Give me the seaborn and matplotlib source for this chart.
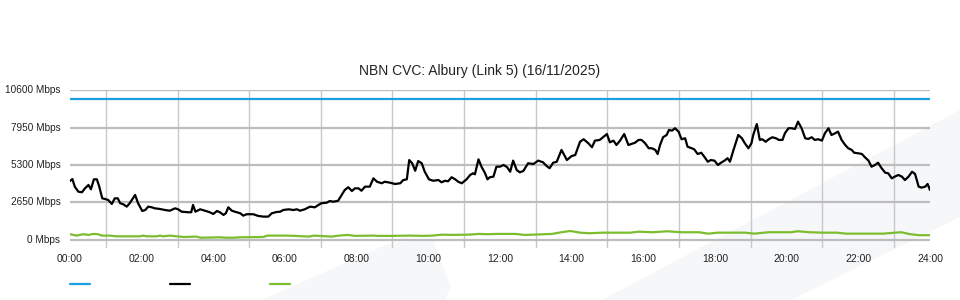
import numpy as np
import pandas as pd
import seaborn as sns
import matplotlib
matplotlib.use("Agg")
import matplotlib.pyplot as plt
from matplotlib.patches import Polygon

# ---- data -------------------------------------------------------------
title = "NBN CVC: Albury (Link 5) (16/11/2025)"
y_ticks = [0, 2650, 5300, 7950, 10600]
y_tick_labels = [f"{v} Mbps" for v in y_ticks]
x_ticks = list(range(0, 25, 2))
x_tick_labels = [f"{h:02d}:00" for h in x_ticks]

capacity_min = [0, 1440]
capacity_val = [10000, 10000]

traffic_min = [0, 4, 8, 14, 20, 25, 31, 35, 40, 45, 49, 54, 59, 64, 70, 75, 80, 84, 89, 95,
               100, 109, 114, 121, 126, 131, 137, 142, 151, 159, 167, 176, 181, 187, 198, 203,
               206, 210, 218, 226, 234, 240, 246, 251, 257, 261, 265, 271, 276, 285, 290, 296,
               307, 315, 324, 332, 338, 346, 352, 357, 366, 374, 380, 385, 393, 402, 410, 416,
               421, 430, 435, 441, 449, 455, 460, 466, 472, 477, 483, 488, 494, 502, 508, 514,
               522, 527, 536, 544, 553, 558, 564, 568, 573, 578, 583, 589, 594, 601, 608, 617,
               622, 628, 633, 639, 645, 650, 656, 664, 670, 675, 678, 684, 689, 695, 699, 703,
               709, 714, 720, 726, 732, 737, 742, 748, 753, 759, 767, 776, 784, 792, 798, 803,
               809, 815, 823, 832, 840, 846, 854, 860, 868, 874, 879, 887, 899, 904, 910, 915,
               921, 928, 935, 940, 946, 952, 957, 963, 969, 974, 980, 984, 988, 993, 999, 1003,
               1008, 1013, 1019, 1024, 1030, 1034, 1041, 1045, 1051, 1057, 1062, 1068, 1073,
               1079, 1085, 1090, 1096, 1101, 1105, 1111, 1119, 1125, 1130, 1136, 1141, 1144,
               1150, 1155, 1159, 1165, 1170, 1176, 1182, 1187, 1193, 1197, 1203, 1208, 1214,
               1219, 1225, 1231, 1236, 1242, 1247, 1253, 1259, 1264, 1270, 1275, 1281, 1286,
               1292, 1298, 1303, 1309, 1313, 1320, 1326, 1331, 1337, 1342, 1348, 1353, 1359,
               1365, 1370, 1376, 1381, 1387, 1393, 1398, 1404, 1410, 1415, 1421, 1426, 1432,
               1436, 1440]
traffic_val = [4160, 4300, 3760, 3400, 3360, 3640, 3880, 3570, 4280, 4280, 3760, 2930, 2880, 2810,
               2530, 2930, 2930, 2580, 2510, 2340, 2580, 3170, 2580, 2030, 2100, 2340, 2290, 2220,
               2170, 2100, 2050, 2220, 2150, 1980, 1940, 1940, 2460, 1980, 2150, 2050, 1940, 1820,
               2030, 1940, 1750, 1870, 2290, 2050, 1980, 1870, 1700, 1800, 1800, 1680, 1630, 1630,
               1870, 1960, 1980, 2100, 2150, 2100, 2150, 2050, 2150, 2340, 2290, 2460, 2580, 2620,
               2740, 2690, 2760, 3170, 3520, 3720, 3450, 3640, 3640, 3470, 3760, 3760, 4350, 4110,
               4000, 4110, 4040, 3950, 4000, 4230, 4280, 5650, 5420, 4890, 5580, 5420, 4820, 4280,
               4180, 4230, 4070, 4180, 4140, 4430, 4280, 4110, 4000, 4280, 4590, 4710, 4640, 5700,
               5180, 4710, 4280, 4430, 4470, 5180, 5180, 5300, 5140, 4820, 5610, 4940, 4780, 4870,
               5420, 5370, 5610, 5490, 5230, 5070, 5460, 5530, 6370, 5650, 5940, 6010, 6950, 7130,
               6840, 6560, 7030, 7080, 7500, 6910, 7030, 6720, 7030, 7500, 6720, 6790, 6880, 7080,
               7080, 6840, 6490, 6490, 6370, 6080, 6720, 7270, 7430, 7790, 7740, 7910, 7670, 7130,
               7200, 6600, 6490, 6420, 6080, 6170, 5890, 5530, 5650, 5610, 5300, 5460, 5610, 5780,
               5530, 6370, 7430, 7200, 6840, 6490, 6840, 7430, 8210, 7080, 7130, 6950, 7130, 7270,
               7200, 7080, 7080, 7550, 7910, 7910, 7860, 8380, 7910, 7200, 7150, 7270, 7080, 7130,
               7030, 7550, 7910, 7430, 7550, 7670, 7080, 6720, 6490, 6370, 6170, 6130, 6080, 5850,
               5610, 5180, 5300, 5460, 5070, 4750, 4710, 4350, 4470, 4590, 4470, 4230, 4470, 4820,
               4660, 3760, 3690, 3760, 3950, 3520]

other_min = [0, 11, 22, 31, 39, 47, 53, 67, 78, 117, 123, 128, 145, 151, 156, 167, 179, 190, 212,
             218, 251, 262, 273, 285, 323, 331, 361, 377, 400, 408, 438, 450, 465, 477, 508, 515,
             538, 569, 592, 607, 623, 638, 669, 684, 700, 715, 746, 761, 777, 807, 823, 838, 854,
             869, 892, 938, 953, 976, 1000, 1023, 1053, 1069, 1084, 1130, 1146, 1169, 1207, 1219,
             1238, 1261, 1284, 1300, 1361, 1392, 1407, 1422, 1440]
other_val = [380, 280, 380, 330, 400, 380, 280, 280, 230, 230, 280, 230, 230, 280, 230, 280, 230,
             180, 210, 130, 160, 130, 130, 160, 180, 280, 280, 260, 210, 280, 210, 280, 330, 260,
             280, 260, 260, 280, 260, 280, 350, 330, 350, 400, 380, 400, 400, 330, 350, 400, 520,
             610, 490, 450, 490, 490, 560, 520, 590, 520, 520, 420, 490, 490, 420, 520, 520, 590,
             520, 490, 490, 420, 420, 520, 380, 310, 310]

series_names = ["Capacity", "Traffic", "Other"]
series_colors = ["#1ba1e2", "#000000", "#7cbd2e"]

# ---- build table --------------------------------------------------------
frames = []
for name, mins, vals in zip(series_names,
                            [capacity_min, traffic_min, other_min],
                            [capacity_val, traffic_val, other_val]):
    frames.append(pd.DataFrame({"series": name,
                                "hours": np.asarray(mins) / 60.0,
                                "value": vals}))
df = pd.concat(frames, ignore_index=True)

# ---- figure -------------------------------------------------------------
sns.set_theme(style="white")
plt.rcParams["font.family"] = ["Liberation Sans", "DejaVu Sans"]

W, H = 960, 300
fig = plt.figure(figsize=(W / 100, H / 100), dpi=100)
fig.patch.set_facecolor("white")

# faint background watermark shapes
def px(points):
    return [(x / W, 1 - y / H) for x, y in points]

wm = "#f6f7f9"
for pts in ([(602, 300), (960, 110), (960, 217), (791, 300)],
            [(262, 300), (390, 243), (433, 240), (451, 287), (445, 300)]):
    poly = Polygon(px(pts), closed=True, transform=fig.transFigure,
                   facecolor=wm, edgecolor="none", zorder=-10)
    fig.add_artist(poly)

ax = fig.add_axes([70 / W, 1 - 248 / H, 860 / W, (248 - 90.4) / H])
ax.set_facecolor("none")
ax.set_zorder(5)

sns.lineplot(data=df, x="hours", y="value", hue="series", hue_order=series_names,
             palette=dict(zip(series_names, series_colors)), linewidth=1.6,
             ax=ax, legend=False, sort=False, estimator=None)

ax.set_xlim(0, 24)
ax.set_ylim(-600, 10600)
ax.set_xticks(x_ticks)
ax.set_xticklabels(x_tick_labels)
ax.set_xticks(range(0, 25), minor=True)
ax.set_yticks(y_ticks)
ax.set_yticklabels(y_tick_labels)
ax.set_xlabel("")
ax.set_ylabel("")
ax.tick_params(axis="x", which="both", length=0, labelsize=7.5, colors="#222222", pad=4)
ax.tick_params(axis="y", which="both", length=0, labelsize=7.2, colors="#222222", pad=7)
for lbl in ax.get_yticklabels():
    lbl.set_verticalalignment("center")

for s in ax.spines.values():
    s.set_visible(False)

ax.grid(False)
ax.grid(axis="x", which="minor", color="#c8c8c8", linewidth=1.0, zorder=0)
ax.grid(axis="y", which="major", color="#bdbdbd", linewidth=1.6, zorder=0)
ax.set_axisbelow(True)

fig.text(480 / W, 1 - 71 / H, title, ha="center", va="center", fontsize=10, color="#222222")

handles = ax.get_lines()[:3]
fig.legend(handles, ["", "", ""], ncol=3, frameon=False,
           loc="center left", bbox_to_anchor=(70 / W, 1 - 285 / H),
           handlelength=1.8, handletextpad=0.0, columnspacing=7.2, fontsize=8,
           borderpad=0, borderaxespad=0)

fig.savefig("out.png", dpi=100, facecolor="white")
